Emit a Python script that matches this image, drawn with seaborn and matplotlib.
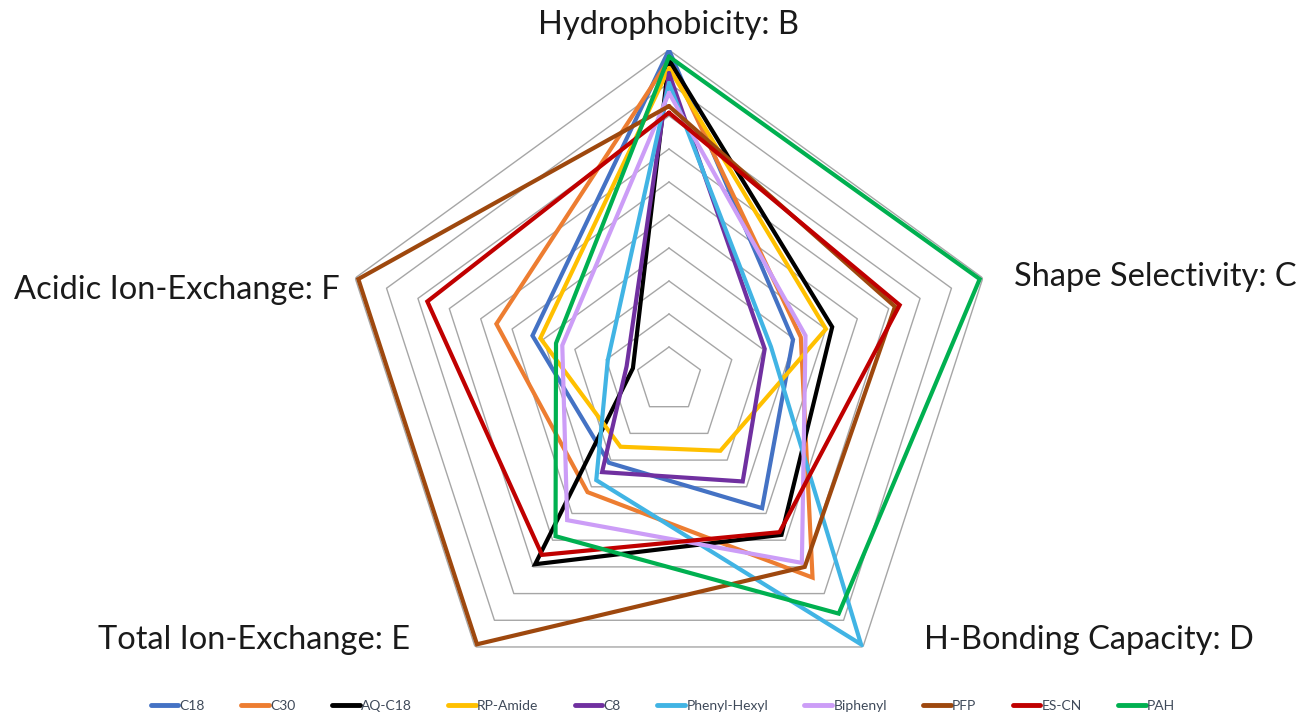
import numpy as np
import pandas as pd
import matplotlib
matplotlib.use("Agg")
import matplotlib.pyplot as plt
from matplotlib.lines import Line2D
import seaborn as sns

# ---- data ----
axes_labels = ["Hydrophobicity: B", "Shape Selectivity: C", "H-Bonding Capacity: D",
               "Total Ion-Exchange: E", "Acidic Ion-Exchange: F"]
series_names = ["C18", "C30", "AQ-C18", "RP-Amide", "C8", "Phenyl-Hexyl",
                "Biphenyl", "PFP", "ES-CN", "PAH"]
c18 = [10.0, 3.95, 4.8, 3.1, 4.35]
c30 = [9.7, 4.2, 7.4, 4.2, 5.5]
aq_c18 = [9.7, 5.2, 5.8, 6.9, 1.15]
rp_amide = [9.45, 5.0, 2.65, 2.5, 4.1]
c8 = [9.3, 3.05, 3.8, 3.45, 1.35]
phenyl_hexyl = [9.0, 3.25, 9.9, 3.75, 1.95]
biphenyl = [8.7, 4.35, 6.85, 5.25, 3.4]
pfp = [8.3, 7.2, 7.0, 9.9, 9.9]
es_cn = [8.1, 7.35, 5.7, 6.55, 7.7]
pah = [9.8, 9.9, 8.75, 5.85, 3.6]
series_values = [c18, c30, aq_c18, rp_amide, c8, phenyl_hexyl, biphenyl, pfp, es_cn, pah]
colors = ["#4472C4", "#ED7D31", "#000000", "#FFC000", "#7030A0", "#41B4E4",
          "#CC9DF7", "#9E480E", "#C00000", "#00B050"]
r_max = 10
grid_levels = list(range(1, 11))

# ---- long-form table ----
n = len(axes_labels)
theta = np.linspace(0, 2 * np.pi, n, endpoint=False)
theta_closed = np.append(theta, 2 * np.pi)
rows = []
for name, vals in zip(series_names, series_values):
    vv = list(vals) + [vals[0]]
    for i, (t, v) in enumerate(zip(theta_closed, vv)):
        rows.append({"series": name, "theta": t, "value": v, "order": i})
df = pd.DataFrame(rows)

sns.set_theme(style="white")
plt.rcParams["font.family"] = ["Lato", "DejaVu Sans"]

W, H = 1304, 716
fig = plt.figure(figsize=(W / 100, H / 100), dpi=100)
cx, cy, R = 669, 380, 330
ax = fig.add_axes([(cx - R) / W, (H - cy - R) / H, 2 * R / W, 2 * R / H], projection="polar")
ax.set_theta_zero_location("N")
ax.set_theta_direction(-1)
ax.set_ylim(0, r_max)
ax.grid(False)
ax.set_xticks([])
ax.set_yticks([])
ax.spines["polar"].set_visible(False)
ax.patch.set_alpha(0)

# polygon gridlines
for lv in grid_levels:
    ax.plot(theta_closed, [lv] * len(theta_closed), color="#A6A6A6", lw=1.0, zorder=1)

sns.lineplot(data=df, x="theta", y="value", hue="series", hue_order=series_names,
             palette=dict(zip(series_names, colors)), sort=False, estimator=None,
             units="series", lw=3.0, ax=ax, legend=False, zorder=3)
for ln in ax.lines[len(grid_levels):]:
    ln.set_solid_joinstyle("miter")
ax.set_xlabel("")
ax.set_ylabel("")

# axis labels
lab_fs = 23.5
lab_col = "#1a1a1a"
fig.text(669 / W, 1 - 25 / H, axes_labels[0], ha="center", va="center", fontsize=lab_fs, color=lab_col)
fig.text(1014 / W, 1 - 277 / H, axes_labels[1], ha="left", va="center", fontsize=lab_fs, color=lab_col)
fig.text(924 / W, 1 - 640 / H, axes_labels[2], ha="left", va="center", fontsize=lab_fs, color=lab_col)
fig.text(410 / W, 1 - 640 / H, axes_labels[3], ha="right", va="center", fontsize=lab_fs, color=lab_col)
fig.text(340 / W, 1 - 290 / H, axes_labels[4], ha="right", va="center", fontsize=lab_fs, color=lab_col)

handles = [Line2D([0], [0], color=c, lw=3.5) for c in colors]
leg = fig.legend(handles, series_names, loc="center", bbox_to_anchor=(663 / W, 1 - 706 / H),
                 ncol=10, frameon=False, fontsize=10, handlelength=2.0, handletextpad=0.1,
                 columnspacing=2.6)
for t in leg.get_texts():
    t.set_color("#3F4A5A")

fig.savefig("out.png", dpi=100)
